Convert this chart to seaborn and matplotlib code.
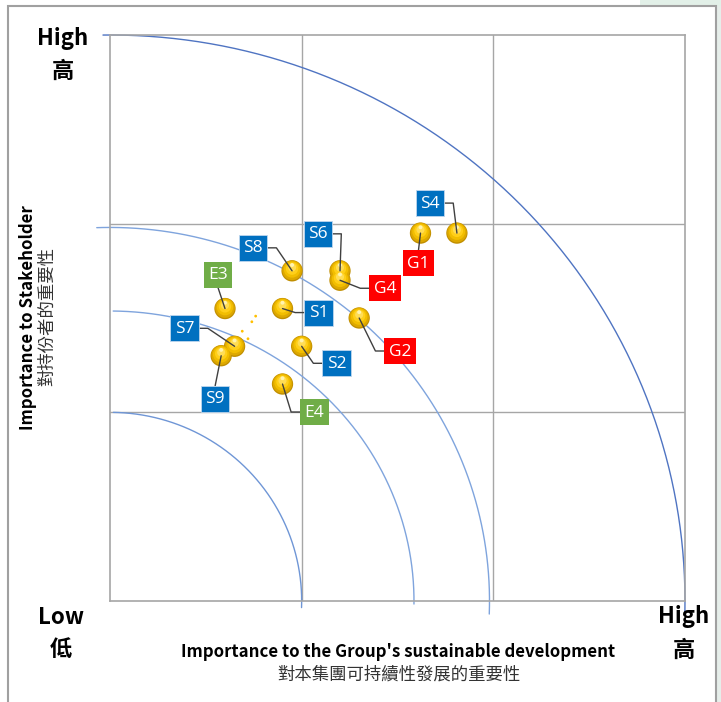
import numpy as np
import pandas as pd
import matplotlib
matplotlib.use("Agg")
import matplotlib.pyplot as plt
import seaborn as sns
from matplotlib.patches import Rectangle
from matplotlib.transforms import IdentityTransform, offset_copy

# ---- materiality data -------------------------------------------------
labels = ["S4", "G1", "S6", "G4", "S8", "E3", "S1", "G2", "S7", "S9", "S2", "E4"]
group_importance = [1.81, 1.62, 1.20, 1.20, 0.95, 0.60, 0.90, 1.30, 0.65, 0.58, 1.00, 0.90]
stakeholder_importance = [1.95, 1.95, 1.75, 1.70, 1.75, 1.55, 1.55, 1.50, 1.35, 1.30, 1.35, 1.15]

# small stray markers between E3 and S1
speck_x = [0.76, 0.74, 0.69, 0.72]
speck_y = [1.51, 1.48, 1.43, 1.39]

# quarter-circle bands (x radius, y radius, start angle, end angle)
arc_rx = [1.00, 1.586, 1.98, 3.00]
arc_ry = [1.00, 1.537, 1.98, 3.00]
arc_t0 = [-2.0, -0.6, -2.0, -1.1]
arc_t1 = [89.0, 89.4, 92.0, 90.7]
arc_colors = ["#6F96D6", "#7FA4DD", "#7FA4DD", "#4F74C2"]

category_colors = {"S": "#0070C0", "G": "#FF0000", "E": "#70AD47"}

# label box offsets from each bubble, in pixels (dx, dy upward) + leader style
label_layout = {
    "S4": (-27, 30, "h"), "G1": (-2, -30, "v"), "S6": (-22, 37, "h"),
    "G4": (45, -8, "h"), "S8": (-39, 23, "h"), "E3": (-7, 34, "v"),
    "S1": (36, -4, "h"), "G2": (41, -33, "h"), "S7": (-50, 18, "h"),
    "S9": (-6, -43, "v"), "S2": (35, -17, "h"), "E4": (32, -28, "h"),
}

df = pd.DataFrame({"issue": labels, "group": group_importance,
                   "stakeholder": stakeholder_importance})

# ---- figure --------------------------------------------------------------
sns.set_theme(style="white")
plt.rcParams["font.family"] = ["Noto Sans CJK TC", "DejaVu Sans"]

W, H = 721, 702
fig = plt.figure(figsize=(W / 100, H / 100), dpi=100)
fig.patch.set_facecolor("white")
ax = fig.add_axes([110 / W, 1 - 601 / H, 575 / W, 566 / H])
ax.set_xlim(0, 3)
ax.set_ylim(0, 3)
ax.set_xticks([])
ax.set_yticks([])
for s in ax.spines.values():
    s.set_color("#A6A6A6")
    s.set_linewidth(1.2)

# grid dividing the 3x3 matrix
for v in (1, 2):
    ax.axvline(v, color="#A6A6A6", lw=1.0, zorder=1)
    ax.axhline(v, color="#A6A6A6", lw=1.0, zorder=1)

# concentric priority arcs
for rx, ry, t0, t1, c in zip(arc_rx, arc_ry, arc_t0, arc_t1, arc_colors):
    t = np.radians(np.linspace(t0, t1, 300))
    ax.plot(rx * np.cos(t), ry * np.sin(t), color=c, lw=1.0, zorder=2, clip_on=False)

# golden bubbles: shaded with stacked discs
sns.scatterplot(data=df, x="group", y="stakeholder", s=235, color="#C08E00",
                edgecolor="none", linewidth=0, ax=ax, zorder=4, legend=False)
shade = [(200, "#DDA800", 0.4), (140, "#F2BE00", 1.0), (80, "#FFCF1A", 1.6),
         (34, "#FFDD55", 2.4), (8, "#FFF3B0", 4.2)]
for size, col, dy in shade:
    tr = offset_copy(ax.transData, fig=fig, x=0, y=dy, units="points")
    ax.scatter(df["group"], df["stakeholder"], s=size, color=col,
               edgecolor="none", transform=tr, zorder=5)

ax.scatter(speck_x, speck_y, s=4, color="#FFC000", edgecolor="none", zorder=4)
ax.set_xlabel("")
ax.set_ylabel("")

# ---- labels with leader lines -------------------------------------------
fig.canvas.draw()
renderer = fig.canvas.get_renderer()
ident = IdentityTransform()
gap = 9
box_h = 26
for lab, gx, gy in zip(labels, group_importance, stakeholder_importance):
    dx, dy, style = label_layout[lab]
    bx0, by0 = ax.transData.transform((gx, gy))
    cx, cy = bx0 + dx, by0 + dy
    t = ax.text(cx, cy - 0.5, lab, transform=ident, ha="center", va="center",
                color="white", fontsize=12.5, family=["Open Sans", "DejaVu Sans"],
                zorder=8, clip_on=False)
    tw = t.get_window_extent(renderer).width
    bw = max(26, tw + 9)
    ax.add_patch(Rectangle((cx - bw / 2, cy - box_h / 2), bw, box_h,
                           transform=ident, facecolor=category_colors[lab[0]],
                           edgecolor="#BFD7EE" if lab[0] == "S" else "none",
                           lw=0.6, zorder=7, clip_on=False))
    if style == "h":
        side = 1 if dx < 0 else -1
        ex = cx + side * bw / 2
        kx = ex + side * gap
        xs, ys = [ex, kx, bx0], [cy, cy, by0]
    else:
        ey = cy - box_h / 2 if dy > 0 else cy + box_h / 2
        xs, ys = [cx, bx0], [ey, by0]
    ax.plot(xs, ys, color="#404040", lw=1.0, transform=ident, zorder=6, clip_on=False)

# ---- axis captions -------------------------------------------------------
def fx(x):
    return x / W

def fy(y):
    return 1 - y / H

bold = dict(fontweight="bold", color="black", ha="center", va="center")
fig.text(fx(63), fy(38), "High", fontsize=16, **bold)
fig.text(fx(63), fy(71), "高", fontsize=16, **bold)
fig.text(fx(61), fy(617), "Low", fontsize=16, **bold)
fig.text(fx(61), fy(649), "低", fontsize=16, **bold)
fig.text(fx(684), fy(617), "High", fontsize=16, **bold)
fig.text(fx(684), fy(650), "高", fontsize=16, **bold)

fig.text(fx(398), fy(652), "Importance to the Group's sustainable development",
         fontsize=12.1, **bold)
fig.text(fx(399), fy(675), "對本集團可持續性發展的重要性", fontsize=12.5,
         color="#333333", ha="center", va="center")
fig.text(fx(28), fy(318), "Importance to Stakeholder", fontsize=12.1,
         rotation=90, **bold)
fig.text(fx(47), fy(317), "對持份者的重要性", fontsize=12.5, rotation=90,
         color="#333333", ha="center", va="center")

# ---- outer frame ---------------------------------------------------------
fig.add_artist(Rectangle((fx(717), 0), fx(4), 1, transform=fig.transFigure,
                         facecolor="#E6EEEA", edgecolor="none", zorder=0))
fig.add_artist(Rectangle((fx(640), fy(6)), fx(81), fy(0) - fy(6) + 0.001,
                         transform=fig.transFigure, facecolor="#E2F0E8",
                         edgecolor="none", zorder=0))
fig.add_artist(Rectangle((fx(8), -0.02), fx(716) - fx(8), fy(6) + 0.02,
                         transform=fig.transFigure, fill=False,
                         edgecolor="#A0A0A0", lw=1.5, zorder=1))

fig.savefig("out.png", dpi=100)
